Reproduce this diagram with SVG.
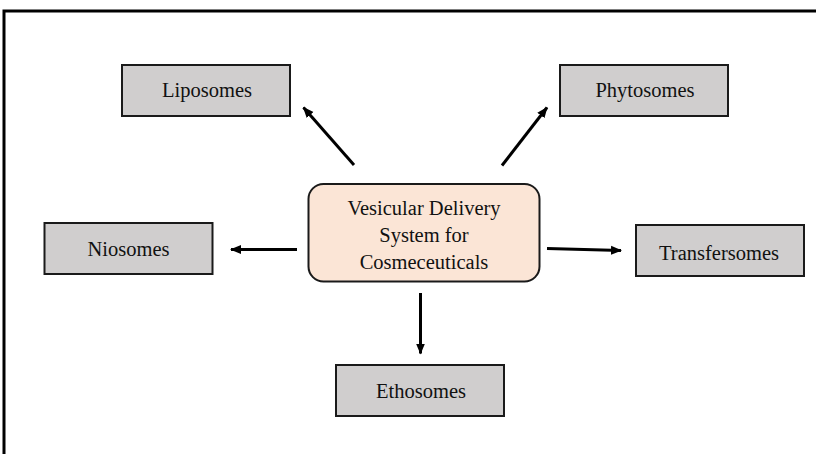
<svg xmlns="http://www.w3.org/2000/svg" width="816" height="454" viewBox="0 0 816 454">
<style>
.box{fill:#d0cece;stroke:#1a1a1a;stroke-width:2}
.center{fill:#fbe5d6;stroke:#1a1a1a;stroke-width:2}
.t{font-family:"Liberation Serif","Times New Roman",serif;font-size:20.5px;fill:#111;text-anchor:middle}
.c{stroke:#000;stroke-width:3;fill:none;marker-end:url(#ah)}
</style>
<defs>
<marker id="ah" markerWidth="11" markerHeight="10" viewBox="0 0 11 10" refX="10" refY="5" orient="auto" markerUnits="userSpaceOnUse">
<path d="M0,0.5 L11,5 L0,9.5 Z" fill="#000"/>
</marker>
</defs>
<rect width="816" height="454" fill="#fff"/>
<path d="M4,460 L4,11 L820,11" fill="none" stroke="#000" stroke-width="3"/>
<g id="connectors">
<line class="c" x1="354" y1="165" x2="303.5" y2="107.5"/>
<line class="c" x1="502" y1="165.5" x2="547" y2="107.5"/>
<line class="c" x1="297" y1="249.5" x2="231" y2="249.5"/>
<line class="c" x1="547" y1="248.5" x2="621" y2="250.5"/>
<line class="c" x1="420.5" y1="293" x2="420.5" y2="353.5"/>
</g>
<g id="center">
<rect class="center" x="308.5" y="184" width="231" height="97.5" rx="15"/>
<text class="t" x="424" y="215">Vesicular Delivery</text>
<text class="t" x="424" y="242">System for</text>
<text class="t" x="424" y="269">Cosmeceuticals</text>
</g>
<g id="liposomes">
<rect class="box" x="122" y="65" width="168" height="51"/>
<text class="t" x="207" y="97">Liposomes</text>
</g>
<g id="phytosomes">
<rect class="box" x="560" y="65" width="168" height="51"/>
<text class="t" x="645" y="97">Phytosomes</text>
</g>
<g id="niosomes">
<rect class="box" x="44.5" y="223" width="168" height="51"/>
<text class="t" x="128.5" y="256">Niosomes</text>
</g>
<g id="transfersomes">
<rect class="box" x="636" y="225" width="168" height="51"/>
<text class="t" x="719" y="260">Transfersomes</text>
</g>
<g id="ethosomes">
<rect class="box" x="336" y="365" width="168" height="51"/>
<text class="t" x="421" y="398">Ethosomes</text>
</g>
</svg>
